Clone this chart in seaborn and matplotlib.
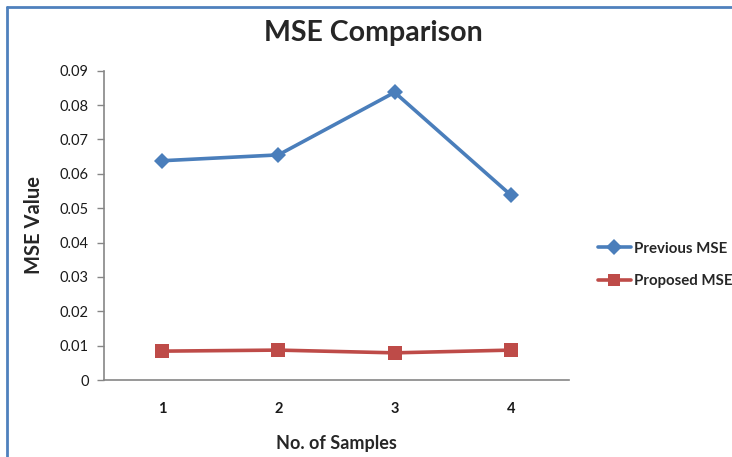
import matplotlib
matplotlib.use("Agg")
import matplotlib.pyplot as plt
import seaborn as sns
import pandas as pd
from matplotlib.lines import Line2D

samples = ["1", "2", "3", "4"]
previous_mse = [0.0638, 0.0655, 0.0837, 0.0538]
proposed_mse = [0.0084, 0.0087, 0.0079, 0.0087]
series_names = ["Previous MSE", "Proposed MSE"]
y_ticks = [0, 0.01, 0.02, 0.03, 0.04, 0.05, 0.06, 0.07, 0.08, 0.09]
y_tick_labels = ["0", "0.01", "0.02", "0.03", "0.04", "0.05", "0.06", "0.07", "0.08", "0.09"]

df = pd.DataFrame({
    "Sample": samples * 2,
    "MSE": previous_mse + proposed_mse,
    "Series": [series_names[0]] * 4 + [series_names[1]] * 4,
})
df["pos"] = list(range(4)) * 2

sns.set_style("white")
plt.rcParams["font.family"] = ["Lato", "DejaVu Sans"]

fig = plt.figure(figsize=(7.32, 4.57), dpi=100)
ax = fig.add_axes([104 / 732, 77 / 457, 465 / 732, 309.3 / 457])

sns.lineplot(
    data=df, x="pos", y="MSE", hue="Series", style="Series",
    palette={series_names[0]: "#4A7EBB", series_names[1]: "#BE4B48"},
    markers={series_names[0]: "D", series_names[1]: "s"},
    dashes=False, linewidth=2.6, markersize=8, markeredgewidth=0,
    ax=ax, legend=True,
)
for line in ax.lines:
    if line.get_marker() == "s":
        line.set_markersize(10)

ax.set_xlim(-0.5, 3.5)
ax.set_ylim(0, 0.09)
ax.set_xticks(range(4))
ax.set_xticklabels(samples, fontweight="bold", fontsize=10.5, color="#1a1a1a")
ax.set_yticks(y_ticks)
ax.set_yticklabels(y_tick_labels, fontsize=10.5, color="#1a1a1a")
ax.tick_params(axis="y", which="both", left=True, length=5, width=1, color="#868686", pad=6)
ax.tick_params(axis="x", which="both", bottom=False, pad=12)

for s in ["top", "right"]:
    ax.spines[s].set_visible(False)
for s in ["left", "bottom"]:
    ax.spines[s].set_color("#868686")
    ax.spines[s].set_linewidth(1.2)

ax.set_xlabel("No. of Samples", fontsize=13, fontweight="bold", labelpad=14)
ax.set_ylabel("MSE Value", fontsize=14.5, fontweight="bold", labelpad=11)

handles, labels = ax.get_legend_handles_labels()
ax.get_legend().remove()
for h in handles:
    if h.get_marker() == "s":
        h.set_markersize(9)
fig.legend(handles, labels, loc="center left", bbox_to_anchor=(584 / 732, 1 - 265 / 457),
           frameon=False, prop={"weight": "bold", "size": 10.8}, handlelength=2.2,
           handletextpad=0.2, labelspacing=1.25)

fig.text(373 / 732, 1 - 33 / 457, "MSE Comparison", ha="center", va="center",
         fontsize=20.5, fontweight="bold")

border_color = "#4F81BD"
fig.add_artist(Line2D([7 / 732, 7 / 732], [0, 1 - 7 / 457], transform=fig.transFigure,
                      color=border_color, linewidth=2))
fig.add_artist(Line2D([7 / 732, 1], [1 - 7 / 457, 1 - 7 / 457], transform=fig.transFigure,
                      color=border_color, linewidth=2))

fig.savefig("out.png", dpi=100)
